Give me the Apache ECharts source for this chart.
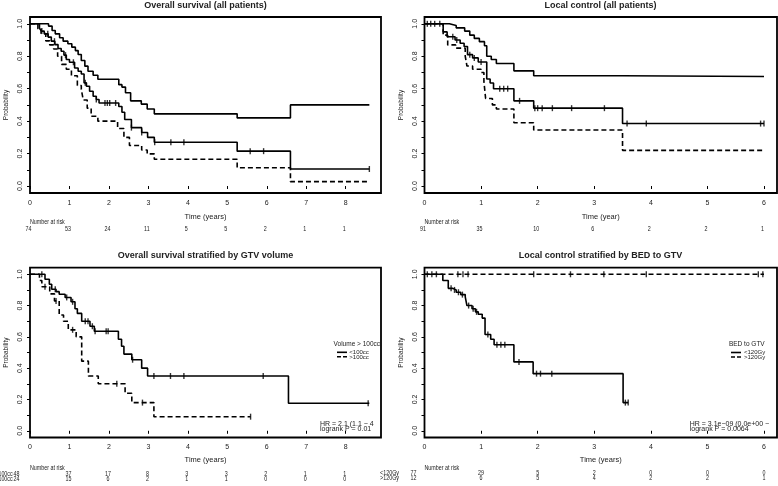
<!DOCTYPE html>
<html><head><meta charset="utf-8">
<script src="https://cdn.jsdelivr.net/npm/echarts@6/dist/echarts.min.js"></script>
<style>html,body{margin:0;padding:0;background:#fff}#c{width:778px;height:486px}</style>
</head><body><div id="c"></div>
<script>
// ---------- tick values ----------
const xTicksOS = [0,1,2,3,4,5,6,7,8];
const xTicksLC = [0,1,2,3,4,5,6];
const yTicks = [0,0.1,0.2,0.3,0.4,0.5,0.6,0.7,0.8,0.9,1.0];
const yLabels = [0,0.2,0.4,0.6,0.8,1.0];

// ---------- Panel 1: overall survival (all patients) ----------
const osT   = [0,0.24,0.29,0.36,0.46,0.54,0.63,0.71,0.79,0.86,0.92,1.0,1.13,1.22,1.3,1.37,1.43,1.51,1.6,1.68,1.75,2.25,2.33,2.4,2.57,2.83,2.98,3.15,5.25,6.6,8.6];
const osS   = [1,0.973,0.955,0.938,0.918,0.893,0.872,0.848,0.831,0.807,0.78,0.763,0.728,0.708,0.691,0.636,0.615,0.584,0.553,0.533,0.512,0.49,0.455,0.41,0.36,0.33,0.30,0.27,0.215,0.105,0.105];
const osUpT = [0,0.47,0.56,0.64,0.75,0.84,0.96,1.06,1.15,1.22,1.3,1.39,1.47,1.6,1.72,2.25,2.33,2.42,2.55,2.82,2.97,3.15,5.25,6.6,8.6];
const osUpS = [1,0.986,0.959,0.938,0.914,0.893,0.877,0.856,0.835,0.811,0.774,0.739,0.708,0.683,0.658,0.625,0.61,0.575,0.525,0.505,0.475,0.445,0.42,0.50,0.50];
const osLoT = [0,0.2,0.28,0.4,0.5,0.6,0.7,0.8,0.92,1.05,1.2,1.3,1.35,1.45,1.55,1.72,2.22,2.38,2.52,2.83,2.97,3.15,5.25,6.6,8.55];
const osLoS = [1,0.97,0.94,0.895,0.87,0.845,0.80,0.75,0.72,0.68,0.62,0.595,0.53,0.48,0.43,0.40,0.355,0.30,0.25,0.222,0.198,0.165,0.113,0.027,0.027];
const osCens = [0.3,0.45,0.62,0.9,1.1,1.4,1.68,1.9,1.96,2.02,2.17,2.57,2.83,3.16,3.57,3.9,5.58,5.92,8.6];
const osRisk = [74,53,24,11,5,5,2,1,1];

// ---------- Panel 2: local control (all patients) ----------
const lcT   = [0,0.33,0.4,0.54,0.63,0.7,0.76,0.85,0.95,1.1,1.16,1.22,1.58,1.93,3.5,6.0];
const lcS   = [1,0.95,0.92,0.90,0.88,0.86,0.81,0.79,0.765,0.66,0.635,0.60,0.525,0.48,0.385,0.385];
const lcUpT = [0,0.44,0.56,0.71,0.80,0.88,0.97,1.06,1.1,1.18,1.27,1.58,1.93,3.5,6.0];
const lcUpS = [1,0.99,0.975,0.955,0.93,0.91,0.89,0.865,0.80,0.78,0.755,0.71,0.68,0.675,0.675];
const lcLoT = [0,0.33,0.41,0.55,0.72,0.75,0.85,1.0,1.05,1.08,1.2,1.27,1.58,1.93,3.5,6.0];
const lcLoS = [1,0.93,0.87,0.85,0.80,0.74,0.72,0.70,0.645,0.54,0.50,0.475,0.39,0.345,0.22,0.22];
const lcCens = [0.05,0.11,0.18,0.27,0.5,0.57,0.8,0.88,1.0,1.33,1.4,1.47,1.68,1.95,2.0,2.08,2.26,2.6,3.18,3.58,3.92,5.94,6.0];
const lcRisk = [91,35,10,6,2,2,1];

// ---------- Panel 3: OS by GTV volume ----------
const volLabels = ['<100cc','>100cc'];
const volLtT = [0,0.38,0.49,0.55,0.66,0.74,0.89,1.04,1.14,1.2,1.31,1.52,1.63,2.24,2.32,2.38,2.58,2.83,2.98,6.55,8.6];
const volLtS = [1,0.968,0.936,0.904,0.889,0.872,0.852,0.824,0.78,0.75,0.70,0.668,0.636,0.585,0.54,0.49,0.454,0.40,0.35,0.176,0.176];
const volLtCens = [0.3,0.64,0.93,1.08,1.4,1.47,1.58,1.65,1.93,1.98,2.6,3.14,3.56,3.9,5.91,8.57];
const volGtT = [0,0.24,0.3,0.5,0.62,0.74,0.85,0.97,1.17,1.31,1.48,1.73,2.41,2.58,3.14,5.59];
const volGtS = [1,0.96,0.92,0.875,0.83,0.74,0.70,0.645,0.60,0.445,0.35,0.30,0.24,0.18,0.09,0.09];
const volGtCens = [0.38,0.66,1.08,2.2,2.85,5.59];
const volRiskLt = [48,37,17,8,3,3,2,1,1];
const volRiskGt = [24,15,6,2,1,1,0,0,0];

// ---------- Panel 4: LC by BED ----------
const bedLabels = ['<120Gy','>120Gy'];
const bedLtT = [0,0.324,0.42,0.5,0.56,0.64,0.72,0.75,0.84,0.9,0.95,1.02,1.07,1.17,1.23,1.58,1.92,3.51,3.6];
const bedLtS = [1,0.96,0.91,0.90,0.885,0.87,0.855,0.80,0.78,0.76,0.745,0.72,0.615,0.585,0.55,0.44,0.365,0.18,0.18];
const bedLtCens = [0.05,0.13,0.21,0.47,0.53,0.6,0.67,0.78,0.86,0.92,1.12,1.28,1.35,1.42,1.67,1.98,2.05,2.25,3.55,3.6];
const bedGtT = [0,6.0];
const bedGtS = [1,1];
const bedGtCens = [0.59,0.68,0.77,1.93,2.58,3.17,3.92,5.9,5.98];
const bedRiskLt = [77,29,5,2,0,0,0];
const bedRiskGt = [12,6,5,4,2,2,1];

// ---------- helpers ----------
const FF = '"Liberation Sans", Arial, Helvetica, sans-serif';
const pairs = (T,S) => T.map((t,i)=>[t,S[i]]);
const stepAt = (T,S,t) => { let v=S[0]; for (let i=0;i<T.length;i++){ if (T[i]<=t+1e-9) v=S[i]; } return v; };
const cens = (T,S,C) => C.map(t=>[t, stepAt(T,S,t)]);

function kmLine(idx, T, S, dashed, name){
  return { type:'line', name:name, xAxisIndex:idx, yAxisIndex:idx, step:'end', data:pairs(T,S),
    showSymbol:false, symbol:'none', silent:true,
    lineStyle:{color:'#000', width:1.6, type: dashed ? [5,3] : 'solid'} };
}
function censMarks(idx, T, S, C){
  return { type:'scatter', xAxisIndex:idx, yAxisIndex:idx, data:cens(T,S,C), symbol:'rect',
    symbolSize:[1.4,6], itemStyle:{color:'#000'}, silent:true, clip:false };
}

const grids = [
  {left:30,  top:17,    width:351,   height:176},
  {left:424.5, top:17,  width:352.5, height:176},
  {left:30,  top:267.7, width:351,   height:169.8},
  {left:424.5, top:267.7, width:352.5, height:169.8}
].map(g=>Object.assign(g,{show:true, borderColor:'#000', borderWidth:1.8, backgroundColor:'transparent'}));

const xInfo = [
  {max:8.895, ticks:xTicksOS, name:'Time (years)', gap:20},
  {max:6.23,  ticks:xTicksLC, name:'Time (year)',  gap:20},
  {max:8.895, ticks:xTicksOS, name:'Time (years)', gap:18.5},
  {max:6.23,  ticks:xTicksLC, name:'Time (years)', gap:18.5}
];
const xAxes = xInfo.map((a,i)=>({
  type:'value', gridIndex:i, min:0, max:a.max,
  axisLine:{show:false}, splitLine:{show:false},
  axisTick:{show:true, inside:false, length:3, customValues:a.ticks, lineStyle:{color:'#000', width:1}},
  axisLabel:{show:true, customValues:a.ticks, margin:6.5, fontSize:7, fontFamily:FF, color:'#222',
    formatter:v=>String(v)},
  name:a.name, nameLocation:'middle', nameGap:a.gap,
  nameTextStyle:{fontSize:7.5, fontFamily:FF, color:'#222'}
}));
const yAxes = [0,1,2,3].map(i=>({
  type:'value', gridIndex:i, min:-0.043, max:1.042,
  axisLine:{show:false}, splitLine:{show:false},
  axisTick:{show:true, inside:false, length:3, customValues:yTicks, lineStyle:{color:'#000', width:1}},
  axisLabel:{show:true, customValues:yLabels, rotate:90, margin:6, fontSize:7, fontFamily:FF, color:'#222',
    formatter:v=>v.toFixed(1)},
  name:'Probability', nameLocation:'middle', nameRotate:90, nameGap:20,
  nameTextStyle:{fontSize:6.5, fontFamily:FF, color:'#222'}
}));

const series = [
  kmLine(0, osUpT, osUpS, false, 'upper'),
  kmLine(0, osT, osS, false, 'estimate'),
  kmLine(0, osLoT, osLoS, true, 'lower'),
  censMarks(0, osT, osS, osCens),
  kmLine(1, lcUpT, lcUpS, false, 'upper'),
  kmLine(1, lcT, lcS, false, 'estimate'),
  kmLine(1, lcLoT, lcLoS, true, 'lower'),
  censMarks(1, lcT, lcS, lcCens),
  kmLine(2, volLtT, volLtS, false, volLabels[0]),
  kmLine(2, volGtT, volGtS, true, volLabels[1]),
  censMarks(2, volLtT, volLtS, volLtCens),
  censMarks(2, volGtT, volGtS, volGtCens),
  kmLine(3, bedLtT, bedLtS, false, bedLabels[0]),
  kmLine(3, bedGtT, bedGtS, true, bedLabels[1]),
  censMarks(3, bedLtT, bedLtS, bedLtCens),
  censMarks(3, bedGtT, bedGtS, bedGtCens)
];

const chart = echarts.init(document.getElementById('c'), null, {renderer:'canvas'});
chart.setOption({animation:false, backgroundColor:'#fff', grid:grids, xAxis:xAxes, yAxis:yAxes, series:series});

// ---------- text overlays ----------
function txt(x,y,s,opt){
  opt = opt||{};
  return {type:'text', silent:true, x:x, y:y, scaleX:opt.sx||1, scaleY:opt.sy||1,
    style:{text:s, fill:'#222', font:(opt.bold?'bold ':'')+(opt.size||7)+'px '+FF,
      align:opt.align||'left', textAlign:opt.align||'left',
      verticalAlign:'middle', textVerticalAlign:'middle'}};
}
function seg(x1,x2,y,dashed){
  return {type:'line', silent:true, shape:{x1:x1,y1:y,x2:x2,y2:y},
    style:{stroke:'#000', lineWidth:1.6, lineDash: dashed ? [4,2] : null}};
}
const px = (gi, t) => chart.convertToPixel({xAxisIndex:gi}, t);
const G = [];
// titles
G.push(txt(205.5, 5.5, 'Overall survival (all patients)', {bold:true, size:9, align:'center'}));
G.push(txt(600.5, 5.5, 'Local control (all patients)', {bold:true, size:9, align:'center'}));
G.push(txt(205.5, 255.5, 'Overall survival stratified by GTV volume', {bold:true, size:9, align:'center'}));
G.push(txt(600.5, 255.5, 'Local control stratified by BED to GTV', {bold:true, size:9, align:'center'}));
// risk tables
const R = {size:6.3, sx:0.85};
const RC = {size:6.3, sx:0.85, align:'center'};
const RR = {size:6.3, sx:0.85, align:'right'};
G.push(txt(px(0,0), 222.7, 'Number at risk', R));
osRisk.forEach((n,i)=>G.push(txt(px(0,xTicksOS[i])-1.5, 229.5, String(n), RC)));
G.push(txt(px(1,0), 222.7, 'Number at risk', R));
lcRisk.forEach((n,i)=>G.push(txt(px(1,xTicksLC[i])-1.5, 229.5, String(n), RC)));
G.push(txt(px(2,0), 468, 'Number at risk', R));
G.push(txt(12.7, 474, volLabels[0], RR));
G.push(txt(12.7, 479.5, volLabels[1], RR));
volRiskLt.forEach((n,i)=>G.push(txt(px(2,xTicksOS[i])-(i===0?13.5:1), 474, String(n), RC)));
volRiskGt.forEach((n,i)=>G.push(txt(px(2,xTicksOS[i])-(i===0?13.5:1), 479.5, String(n), RC)));
G.push(txt(px(3,0), 468.3, 'Number at risk', R));
G.push(txt(399, 473.5, bedLabels[0], RR));
G.push(txt(399, 478.7, bedLabels[1], RR));
bedRiskLt.forEach((n,i)=>G.push(txt(px(3,xTicksLC[i])-(i===0?11:0), 473.5, String(n), RC)));
bedRiskGt.forEach((n,i)=>G.push(txt(px(3,xTicksLC[i])-(i===0?11:0), 478.7, String(n), RC)));
// legends
G.push(txt(380, 344.3, 'Volume > 100cc', {size:6.5, align:'right'}));
G.push(seg(337, 347, 352.3, false)); G.push(txt(349.3, 352.3, volLabels[0], {size:6}));
G.push(seg(337, 347, 356.8, true));  G.push(txt(349.3, 357, volLabels[1], {size:6}));
G.push(txt(764.7, 344.3, 'BED to GTV', {size:6.5, align:'right'}));
G.push(seg(731, 741, 352.5, false)); G.push(txt(744, 352.5, bedLabels[0], {size:6}));
G.push(seg(731, 741, 357, true));    G.push(txt(744, 357.2, bedLabels[1], {size:6}));
// HR / logrank
G.push(txt(320, 424, 'HR = 2.1 (1.1 \u2212 4', {size:7}));
G.push(txt(320, 429, 'logrank P = 0.01', {size:7}));
G.push(txt(689.7, 424, 'HR = 3.1e\u221209 (0.0e+00 \u2212', {size:7}));
G.push(txt(689.7, 429, 'logrank P = 0.0064', {size:7}));
chart.setOption({graphic:G});
</script></body></html>
